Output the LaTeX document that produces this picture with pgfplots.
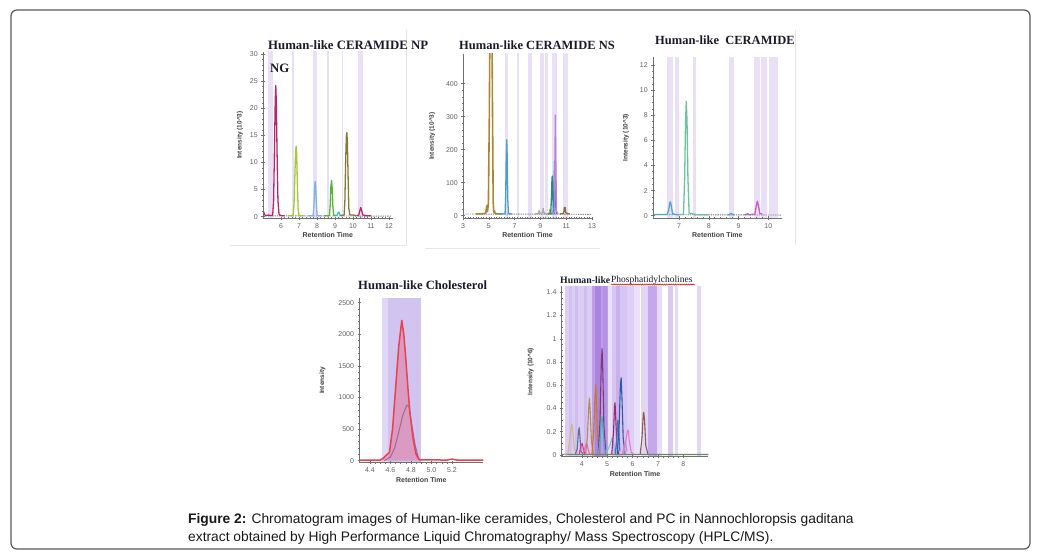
\documentclass[border=0pt]{standalone}
\usepackage{fontspec}
\setmainfont{Liberation Sans}
\newfontfamily\serif{Liberation Serif}
\usepackage{pgfplots}
\pgfplotsset{compat=1.18}
\usetikzlibrary{decorations.pathmorphing}
\definecolor{axgray}{HTML}{707070}
\definecolor{lbgray}{HTML}{606060}
\definecolor{lbdark}{HTML}{404040}
\definecolor{bandc}{HTML}{E9E0F7}
\definecolor{ttl}{HTML}{1A1A2A}
\definecolor{cb1}{RGB}{224,214,245}
\definecolor{cb2}{RGB}{210,196,240}
\definecolor{pbA}{RGB}{220,205,243}
\definecolor{pbB}{RGB}{210,192,240}
\definecolor{pbC}{RGB}{208,188,240}
\definecolor{pbD}{RGB}{190,158,232}
\definecolor{pbE}{RGB}{172,132,224}
\definecolor{pbF}{RGB}{180,145,228}
\definecolor{pbG}{RGB}{232,224,248}
\definecolor{pbH}{RGB}{214,196,242}
\definecolor{pbI}{RGB}{200,176,237}
\definecolor{pbJ}{RGB}{222,208,244}
\definecolor{pbK}{RGB}{234,226,249}
\definecolor{pbL}{RGB}{226,214,246}
\definecolor{pbM}{RGB}{196,168,235}
\definecolor{pbN}{RGB}{230,220,248}
\definecolor{pbO}{RGB}{218,202,243}
\pgfplotsset{
 chrom/.style={
  scale only axis,
  axis x line*=bottom, axis y line*=left,
  axis line style={draw=axgray, line width=0.6pt},
  tick align=center,
  major tick length=3.5pt, minor tick length=2pt,
  every tick/.style={draw=axgray, line width=0.5pt},
  tick label style={font=\fontsize{7}{8}\selectfont, text=lbgray},
  xlabel={Retention Time},
  xlabel style={font=\bfseries\fontsize{7}{8}\selectfont, text=lbdark, yshift=2.5pt},
  ylabel style={font=\bfseries\fontsize{6.5}{7}\selectfont, text=lbdark},
  /pgf/number format/assume math mode=true,
  /pgf/number format/1000 sep={},
  scaled ticks=false,
  axis on top=true,
  every axis plot/.append style={line width=1.3pt, mark=none, line join=round},
 },
 band/.style={draw=none, fill=#1, forget plot},
}
\begin{document}
\begin{tikzpicture}[x=1pt,y=1pt]
\path[use as bounding box] (0,0) rectangle (1046,557);
\fill[white] (0,0) rectangle (1046,557);
\draw[color=black!65, line width=1.2pt, rounded corners=6pt] (11,8) rectangle (1030,547);
% faint panel frames
\draw[black!10, line width=0.6pt] (230,312) -- (406,312) -- (406,527);
\draw[black!10, line width=0.6pt] (425,309) -- (600,309);
\draw[black!10, line width=0.6pt] (795,527) -- (795,312);

% ---------- Panel 1 ----------
\begin{axis}[chrom, at={(263pt,338.7pt)}, anchor=south west,
  width=129.6pt, height=166.4pt,
  xmin=5, xmax=12.2, ymin=-0.3, ymax=30.4,
  xtick={6,7,...,12}, ytick={0,5,...,30},
  minor x tick num=4, minor y tick num=4,
  ylabel={Intensity (10\textasciicircum3)}]
\addplot[band=bandc] coordinates {(5.3,-5)(5.3,40)(5.57,40)(5.57,-5)};
\addplot[band=bandc] coordinates {(6.59,-5)(6.59,40)(6.7,40)(6.7,-5)};
\addplot[band=bandc] coordinates {(7.77,-5)(7.77,40)(8.02,40)(8.02,-5)};
\addplot[band=bandc] coordinates {(8.54,-5)(8.54,40)(8.68,40)(8.68,-5)};
\addplot[band=bandc] coordinates {(9.37,-5)(9.37,40)(9.46,40)(9.46,-5)};
\addplot[band=bandc] coordinates {(10.3,-5)(10.3,40)(10.57,40)(10.57,-5)};
\addplot[gray, densely dotted, line width=0.9pt] coordinates {(5.0,0.15)(12.1,0.1)};
\addplot[color={rgb,255:red,181;green,40;blue,106}] coordinates {(5.0,0.3)(5.04,0.9)(5.08,0.4)(5.15,0.2)(5.3,0.3)(5.45,0.2)(5.54,0.3)(5.59,3)(5.64,13)(5.68,21.5)(5.71,24.2)(5.74,21)(5.78,12)(5.83,3)(5.89,0.4)(6.0,0.2)(6.2,0.15)};
\addplot[color={rgb,255:red,181;green,40;blue,106}] coordinates {(10.2,0.2)(10.32,0.3)(10.37,1.0)(10.43,1.7)(10.49,1.0)(10.55,0.3)(10.7,0.2)(11.0,0.15)};
\addplot[color={rgb,255:red,164;green,198;blue,57}] coordinates {(6.4,0.15)(6.67,0.2)(6.72,2)(6.77,7.5)(6.81,12)(6.84,13)(6.87,11.5)(6.91,6)(6.95,1.5)(7.0,0.2)(7.3,0.15)};
\addplot[color={rgb,255:red,127;green,178;blue,229}] coordinates {(7.5,0.15)(7.79,0.2)(7.83,2)(7.87,5.5)(7.9,6.5)(7.93,5.3)(7.97,2)(8.01,0.2)(8.3,0.15)};
\addplot[color={rgb,255:red,90;green,180;blue,60}] coordinates {(8.4,0.15)(8.69,0.2)(8.73,2)(8.77,5.5)(8.81,6.7)(8.84,5.5)(8.88,2)(8.93,0.2)(9.05,0.2)};
\addplot[color={rgb,255:red,63;green,191;blue,176}] coordinates {(9.0,0.2)(9.12,0.3)(9.18,0.8)(9.23,0.8)(9.28,0.3)(9.4,0.2)};
\addplot[color={rgb,255:red,133;green,122;blue,56}] coordinates {(9.3,0.2)(9.51,0.3)(9.55,3)(9.59,10)(9.63,14.8)(9.66,15.5)(9.69,13.5)(9.73,7)(9.77,1.5)(9.83,0.3)(10.0,0.3)(10.2,0.2)};
\end{axis}

% ---------- Panel 2 ----------
\begin{axis}[chrom, at={(463pt,338.7pt)}, anchor=south west,
  width=129pt, height=164.3pt,
  xmin=3, xmax=13, ymin=-8, ymax=490,
  xtick={3,5,...,13}, ytick={0,100,...,400},
  minor x tick num=9, minor y tick num=4,
  ylabel={Intensity (10\textasciicircum3)}, ylabel shift=4pt]
\addplot[band=bandc] coordinates {(6.26,-50)(6.26,600)(6.51,600)(6.51,-50)};
\addplot[band=bandc] coordinates {(7.16,-50)(7.16,600)(7.36,600)(7.36,-50)};
\addplot[band=bandc] coordinates {(8.06,-50)(8.06,600)(8.33,600)(8.33,-50)};
\addplot[band=bandc] coordinates {(8.97,-50)(8.97,600)(9.3,600)(9.3,-50)};
\addplot[band=bandc] coordinates {(9.36,-50)(9.36,600)(9.61,600)(9.61,-50)};
\addplot[band=bandc] coordinates {(9.88,-50)(9.88,600)(10.26,600)(10.26,-50)};
\addplot[band=bandc] coordinates {(10.78,-50)(10.78,600)(11.16,600)(11.16,-50)};
\addplot[gray, densely dotted, line width=0.9pt] coordinates {(3,5)(13,4)};
\addplot[color={rgb,255:red,168;green,135;blue,58}, line width=1.6pt] coordinates {(4.0,5)(4.6,6)(4.76,8)(4.84,30)(4.9,12)(4.97,40)(5.04,300)(5.09,600)(5.24,600)(5.29,300)(5.34,40)(5.39,10)(5.43,15)(5.5,6)(6.0,5)};
\addplot[color={rgb,255:red,75;green,156;blue,216}] coordinates {(5.8,5)(6.26,6)(6.31,60)(6.35,180)(6.39,230)(6.43,170)(6.47,50)(6.52,6)(6.8,5)};
\addplot[color=black!35] coordinates {(8.6,5)(8.85,7)(8.9,15)(8.95,6)(9.15,8)(9.22,22)(9.28,8)(9.5,5)};
\addplot[color={rgb,255:red,170;green,176;blue,64}] coordinates {(9.5,5)(9.7,8)(9.75,20)(9.8,8)(9.9,5)};
\addplot[color={rgb,255:red,46;green,139;blue,110}] coordinates {(9.6,5)(9.8,6)(9.85,50)(9.9,115)(9.93,120)(9.97,60)(10.02,10)(10.1,5)};
\addplot[color={rgb,255:red,53;green,121;blue,196}] coordinates {(9.8,5)(10.0,8)(10.05,80)(10.1,165)(10.14,120)(10.19,30)(10.25,5)};
\addplot[color={rgb,255:red,183;green,132;blue,219}] coordinates {(9.9,5)(10.08,10)(10.12,150)(10.16,305)(10.2,150)(10.25,15)(10.35,5)};
\addplot[color={rgb,255:red,142;green,107;blue,58}] coordinates {(10.5,5)(10.8,7)(10.86,25)(10.92,25)(10.97,8)(11.3,5)};
\end{axis}

% ---------- Panel 3 ----------
\begin{axis}[chrom, at={(653pt,338.8pt)}, anchor=south west,
  width=128.7pt, height=160.8pt,
  xmin=6.127, xmax=10.45, ymin=-0.2, ymax=12.6,
  xtick={7,8,9,10}, ytick={0,2,...,12},
  minor x tick num=4, minor y tick num=3,
  ylabel={Intensity (10\textasciicircum3)}, ylabel shift=4pt]
\addplot[band=bandc] coordinates {(6.61,-5)(6.61,20)(6.81,20)(6.81,-5)};
\addplot[band=bandc] coordinates {(6.87,-5)(6.87,20)(7.0,20)(7.0,-5)};
\addplot[band=bandc] coordinates {(7.48,-5)(7.48,20)(7.56,20)(7.56,-5)};
\addplot[band=bandc] coordinates {(8.69,-5)(8.69,20)(8.85,20)(8.85,-5)};
\addplot[band=bandc] coordinates {(9.52,-5)(9.52,20)(9.72,20)(9.72,-5)};
\addplot[band=bandc] coordinates {(9.77,-5)(9.77,20)(9.94,20)(9.94,-5)};
\addplot[band=bandc] coordinates {(10.03,-5)(10.03,20)(10.33,20)(10.33,-5)};
\addplot[color=black!55, densely dotted, line width=0.9pt] coordinates {(6.13,0.08)(10.45,0.05)};
\addplot[color={rgb,255:red,79;green,163;blue,219}] coordinates {(6.13,0.1)(6.6,0.1)(6.65,0.4)(6.69,1.0)(6.71,1.1)(6.74,0.8)(6.78,0.2)(6.85,0.1)(7.0,0.08)};
\addplot[color={rgb,255:red,108;green,195;blue,160}] coordinates {(6.95,0.08)(7.15,0.1)(7.19,3)(7.22,7.5)(7.245,9.1)(7.27,7.5)(7.3,3)(7.34,0.2)(7.6,0.08)(8.0,0.08)};
\addplot[color={rgb,255:red,212;green,85;blue,200}] coordinates {(9.4,0.1)(9.55,0.12)(9.59,0.7)(9.63,1.15)(9.67,0.8)(9.71,0.2)(9.8,0.1)};
\addplot[color={rgb,255:red,79;green,163;blue,219}] coordinates {(8.65,0.05)(8.75,0.18)(8.85,0.05)};
\addplot[color={rgb,255:red,150;green,100;blue,200}] coordinates {(9.2,0.05)(9.3,0.15)(9.4,0.05)};
\end{axis}

% ---------- Panel 4 ----------
\begin{axis}[chrom, at={(359.3pt,94.4pt)}, anchor=south west,
  width=124pt, height=164.3pt,
  xmin=4.296, xmax=5.505, ymin=-30, ymax=2570,
  xtick={4.4,4.6,...,5.2}, ytick={0,500,...,2500},
  minor x tick num=3, minor y tick num=4,
  xticklabel style={/pgf/number format/.cd, fixed, fixed zerofill, precision=1},
  ylabel={Intensity}, ylabel shift=6pt]
\addplot[band=cb1] coordinates {(4.52,-100)(4.52,3000)(4.895,3000)(4.895,-100)};
\addplot[band=cb2] coordinates {(4.58,-100)(4.58,3000)(4.895,3000)(4.895,-100)};
\addplot[draw=none, fill={rgb,255:red,228;green,105;blue,140}, fill opacity=0.45, forget plot] coordinates {(4.50,10)(4.53,40)(4.56,90)(4.59,130)(4.62,500)(4.65,1150)(4.68,1800)(4.71,2220)(4.73,2000)(4.75,1600)(4.77,1150)(4.79,750)(4.82,350)(4.85,100)(4.88,15)(4.88,0)(4.50,0)};
\addplot[color={rgb,255:red,155;green,107;blue,139}, line width=1pt] coordinates {(4.54,0)(4.60,60)(4.64,200)(4.68,450)(4.72,720)(4.76,880)(4.78,860)(4.81,550)(4.84,250)(4.87,60)(4.89,0)};
\addplot[color={rgb,255:red,232;green,65;blue,79}, line width=1.5pt] coordinates {(4.296,10)(4.50,10)(4.53,40)(4.56,90)(4.59,130)(4.62,500)(4.65,1150)(4.68,1800)(4.71,2220)(4.73,2000)(4.75,1600)(4.77,1150)(4.79,750)(4.82,350)(4.85,100)(4.88,15)(5.15,10)(5.2,25)(5.25,10)(5.505,10)};
\end{axis}

% ---------- Panel 5 ----------
\begin{axis}[chrom, at={(561.7pt,100.3pt)}, anchor=south west,
  width=146.6pt, height=170.2pt,
  xmin=3.21, xmax=8.98, ymin=-0.015, ymax=1.45,
  xtick={4,5,...,8}, ytick={0,0.2,...,1.4},
  minor x tick num=4, minor y tick num=3,
  ylabel={Intensity (10\textasciicircum6)}, ylabel shift=6pt,
  every axis plot/.append style={line width=1.1pt}]
\addplot[band=pbA] coordinates {(3.33,-1)(3.33,2)(4.4,2)(4.4,-1)};
\addplot[band=pbB] coordinates {(3.5,-1)(3.5,2)(3.62,2)(3.62,-1)};
\addplot[band=pbC] coordinates {(3.75,-1)(3.75,2)(3.86,2)(3.86,-1)};
\addplot[band=pbC] coordinates {(4.1,-1)(4.1,2)(4.22,2)(4.22,-1)};
\addplot[band=pbD] coordinates {(4.4,-1)(4.4,2)(5.05,2)(5.05,-1)};
\addplot[band=pbE] coordinates {(4.52,-1)(4.52,2)(4.76,2)(4.76,-1)};
\addplot[band=pbF] coordinates {(4.85,-1)(4.85,2)(5.0,2)(5.0,-1)};
\addplot[band=pbG] coordinates {(5.05,-1)(5.05,2)(5.2,2)(5.2,-1)};
\addplot[band=pbH] coordinates {(5.2,-1)(5.2,2)(5.77,2)(5.77,-1)};
\addplot[band=pbI] coordinates {(5.35,-1)(5.35,2)(5.5,2)(5.5,-1)};
\addplot[band=pbJ] coordinates {(5.77,-1)(5.77,2)(6.05,2)(6.05,-1)};
\addplot[band=pbK] coordinates {(6.05,-1)(6.05,2)(6.3,2)(6.3,-1)};
\addplot[band=pbL] coordinates {(6.35,-1)(6.35,2)(6.6,2)(6.6,-1)};
\addplot[band=pbM] coordinates {(6.6,-1)(6.6,2)(6.95,2)(6.95,-1)};
\addplot[band=pbN] coordinates {(6.95,-1)(6.95,2)(7.15,2)(7.15,-1)};
\addplot[band=pbO] coordinates {(7.4,-1)(7.4,2)(7.6,2)(7.6,-1)};
\addplot[band=pbN] coordinates {(7.68,-1)(7.68,2)(7.78,2)(7.78,-1)};
\addplot[band=pbL] coordinates {(8.55,-1)(8.55,2)(8.68,2)(8.68,-1)};
\addplot[color={rgb,255:red,106;green,138;blue,90}] coordinates {(3.21,0.005)(8.98,0.004)};
\addplot[color={rgb,255:red,205;green,184;blue,142}] coordinates {(3.3,0.005)(3.45,0.01)(3.52,0.12)(3.58,0.24)(3.61,0.267)(3.65,0.2)(3.7,0.06)(3.78,0.01)};
\addplot[color={rgb,255:red,94;green,111;blue,145}] coordinates {(3.75,0.01)(3.82,0.05)(3.87,0.2)(3.9,0.235)(3.93,0.15)(3.97,0.03)(4.05,0.01)};
\addplot[color={rgb,255:red,211;green,53;blue,154}] coordinates {(3.9,0.01)(3.97,0.08)(4.02,0.1)(4.07,0.04)(4.12,0.01)};
\addplot[color={rgb,255:red,232;green,106;blue,180}] coordinates {(4.05,0.01)(4.15,0.08)(4.2,0.1)(4.25,0.05)(4.3,0.01)};
\addplot[color={rgb,255:red,181;green,140;blue,85}] coordinates {(4.15,0.01)(4.22,0.15)(4.27,0.4)(4.3,0.49)(4.33,0.38)(4.38,0.12)(4.45,0.01)};
\addplot[color={rgb,255:red,200;green,120;blue,46}] coordinates {(4.4,0.01)(4.47,0.2)(4.52,0.5)(4.55,0.6)(4.58,0.45)(4.62,0.15)(4.7,0.01)};
\addplot[color={rgb,255:red,123;green,59;blue,123}] coordinates {(4.65,0.01)(4.72,0.3)(4.77,0.8)(4.8,0.915)(4.83,0.7)(4.87,0.25)(4.95,0.01)};
\addplot[color={rgb,255:red,67;green,180;blue,180}] coordinates {(4.65,0.01)(4.72,0.12)(4.77,0.3)(4.8,0.33)(4.84,0.2)(4.9,0.05)(5.0,0.01)};
\addplot[color={rgb,255:red,140;green,180;blue,216}] coordinates {(4.95,0.01)(5.1,0.08)(5.2,0.15)(5.25,0.1)(5.3,0.02)};
\addplot[color={rgb,255:red,158;green,42;blue,110}] coordinates {(5.18,0.01)(5.25,0.2)(5.29,0.42)(5.31,0.45)(5.34,0.3)(5.39,0.06)(5.45,0.01)};
\addplot[color={rgb,255:red,62;green,116;blue,194}] coordinates {(5.32,0.01)(5.38,0.15)(5.42,0.3)(5.46,0.2)(5.5,0.03)};
\addplot[color={rgb,255:red,43;green,91;blue,168}] coordinates {(5.4,0.01)(5.47,0.25)(5.52,0.6)(5.55,0.665)(5.58,0.5)(5.63,0.15)(5.7,0.01)};
\addplot[color={rgb,255:red,176;green,143;blue,216}] coordinates {(5.6,0.01)(5.68,0.08)(5.72,0.1)(5.78,0.03)};
\addplot[color={rgb,255:red,232;green,122;blue,192}] coordinates {(5.65,0.01)(5.72,0.1)(5.79,0.2)(5.83,0.215)(5.87,0.12)(5.95,0.02)(6.05,0.01)};
\addplot[color={rgb,255:red,140;green,92;blue,92}] coordinates {(6.3,0.01)(6.37,0.15)(6.42,0.35)(6.44,0.367)(6.47,0.3)(6.52,0.08)(6.6,0.01)};
\end{axis}

% ---------- Titles ----------
\node[anchor=west, inner sep=0, text=ttl, font=\serif\bfseries\fontsize{12.8}{14}\selectfont] at (268,512) {Human-like CERAMIDE NP};
\node[anchor=west, inner sep=0, text=ttl, font=\serif\bfseries\fontsize{12.8}{14}\selectfont] at (270,489) {NG};
\node[anchor=west, inner sep=0, text=ttl, font=\serif\bfseries\fontsize{12.5}{14}\selectfont] at (459,512) {Human-like CERAMIDE NS};
\node[anchor=west, inner sep=0, text=ttl, font=\serif\bfseries\fontsize{12.5}{14}\selectfont] at (655,517) {Human-like\ \ CERAMIDE};
\node[anchor=west, inner sep=0, text=ttl, font=\serif\bfseries\fontsize{12.6}{14}\selectfont] at (358,272) {Human-like Cholesterol};
\node[anchor=west, inner sep=0, text=ttl, font=\serif\bfseries\fontsize{9.8}{11}\selectfont] at (560,277) {Human-like};
\node[anchor=west, inner sep=0, text=ttl, font=\serif\fontsize{9.5}{11}\selectfont] at (611,277) {Phosphatidylcholines};
\draw[red!85!black, line width=0.5pt, decorate, decoration={snake, amplitude=0.6pt, segment length=2.2pt}] (611,272.5) -- (695,272.5);

% ---------- Caption ----------
\node[anchor=west, inner sep=0, font=\fontsize{13.8}{15}\selectfont, text=black!90] at (188,37) {\textbf{Figure 2:} Chromatogram images of Human-like ceramides, Cholesterol and PC in Nannochloropsis gaditana};
\node[anchor=west, inner sep=0, font=\fontsize{13.8}{15}\selectfont, text=black!90] at (188,19) {extract obtained by High Performance Liquid Chromatography/ Mass Spectroscopy (HPLC/MS).};
\end{tikzpicture}
\end{document}
